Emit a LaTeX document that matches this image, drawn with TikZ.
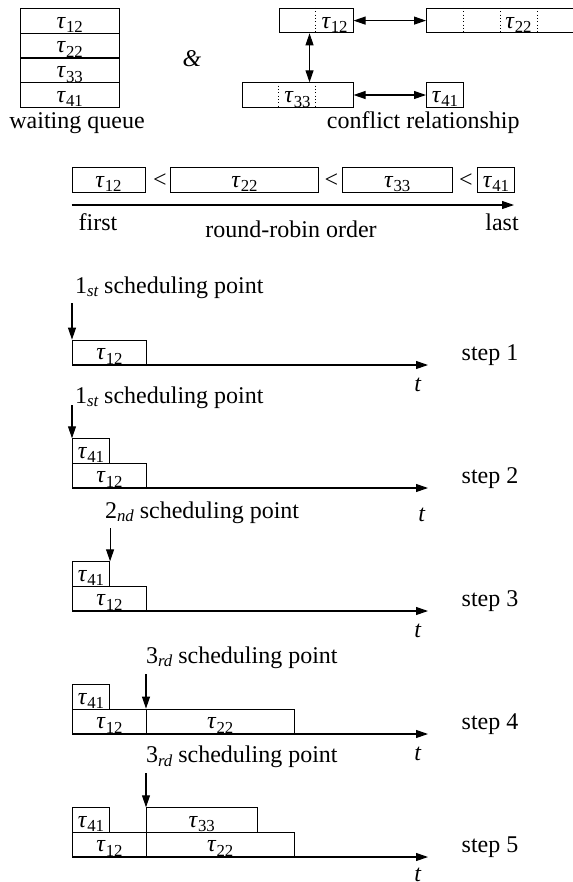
\documentclass[tikz,border=0pt]{standalone}
\usepackage{fontspec}
\setmainfont{Liberation Serif}
\usetikzlibrary{arrows.meta,calc}
% task symbol tau_{ij} with an upright, lowered index
\newcommand{\tk}[1]{\textit{τ}\raisebox{-3.4pt}{\fontsize{12.6pt}{12.6pt}\selectfont #1}}
% ordinal with a lowered italic suffix, e.g. 1_st
\newcommand{\ordn}[2]{#1\raisebox{-2.6pt}{\fontsize{12.6pt}{12.6pt}\selectfont\itshape #2}}
\begin{document}
\begin{tikzpicture}[x=0.75pt,y=-0.75pt,
  font=\fontsize{18pt}{21pt}\selectfont,
  tbox/.style={draw,rectangle,line width=0.8pt,inner sep=0pt,minimum height=18.25pt,
               text height=14.5pt,text depth=3.75pt,anchor=south west},
  bw/.style={minimum width=#1*0.75pt},
  lbl/.style={inner sep=0pt,outer sep=0pt,anchor=base},
  sep/.style={dotted,line width=0.5pt},
  arr/.style={-{Triangle[length=9pt,width=6pt]},line width=0.8pt},
  dbl/.style={{Triangle[length=9pt,width=6pt]}-{Triangle[length=9pt,width=6pt]},line width=0.8pt}]
\useasboundingbox (0,0) rectangle (573,882);

% ---------------- waiting queue ----------------
\node[tbox,bw=98.5] (q1) at (20,33.7)  {\tk{12}};
\node[tbox,bw=98.5] (q2) at (20,58.4)  {\tk{22}};
\node[tbox,bw=98.5] (q3) at (20,83.1)  {\tk{33}};
\node[tbox,bw=98.5] (q4) at (20,107.8) {\tk{41}};
\node[lbl] (wq) at (77,128.3) {waiting queue};
\node[lbl] (amp) at (192,66.7) {\textit{\&}};

% ---------------- conflict relationship ----------------
\node[tbox,bw=74]  (c12) at (278.5,33.3) {};
\node[tbox,bw=150] (c22) at (426,33.3) {};
\node[tbox,bw=111] (c33) at (241.5,107.7) {};
\node[tbox,bw=37]  (c41) at (426,107.7) {\tk{41}};
\draw[sep] ([xshift=27.75pt]c12.north west) -- ([xshift=27.75pt]c12.south west);
\foreach \k in {1,2,3}{
  \draw[sep] ([xshift=\k*27.75pt]c22.north west) -- ([xshift=\k*27.75pt]c22.south west);}
\foreach \k in {1,2}{
  \draw[sep] ([xshift=\k*27.75pt]c33.north west) -- ([xshift=\k*27.75pt]c33.south west);}
\node[lbl] (c12l) at ([xshift=13.9pt,yshift=3.75pt]c12.south) {\tk{12}};
\node[lbl] (c22l) at ([xshift=69.4pt,yshift=3.75pt]c22.south west) {\tk{22}};
\node[lbl] (c33l) at ([yshift=3.75pt]c33.south) {\tk{33}};
\draw[dbl] (c12.east) -- (c22.west);
\coordinate (va) at ($(c12.south)+(-6.5,0)$);
\draw[dbl] (va) -- (va |- c33.north);
\draw[dbl] (c33.east) -- (c41.west);
\node[lbl] (cr) at (423.3,128.3) {conflict relationship};

% ---------------- round-robin order ----------------
\node[tbox,bw=73]    (r12) at (71.5,192.7) {\tk{12}};
\node[tbox,bw=148]   (r22) at (170,192.7)  {\tk{22}};
\node[tbox,bw=109.5] (r33) at (342,192.7)  {\tk{33}};
\node[tbox,bw=37]    (r41) at (477,192.7)  {\tk{41}};
\node[lbl] (lt1) at (160,187)   {<};
\node[lbl] (lt2) at (331.5,187) {<};
\node[lbl] (lt3) at (466,187)   {<};
\coordinate (rs) at (71.5,205);
\coordinate (re) at (514,205);
\draw[arr] (rs) -- (re);
\node[lbl] (first) at (98,230.5)  {first};
\node[lbl] (rro)   at (291,237.5) {round-robin order};
\node[lbl] (last)  at (502,230.5) {last};

% ---------------- step 1 ----------------
\node[tbox,bw=74] (s1a) at (72,365) {\tk{12}};
\coordinate (s1e) at (428,365);
\draw[arr] (s1a.south west) -- (s1e);
\node[lbl] (s1t) at (418,391) {\textit{t}};
\node[lbl] (s1n) at (490,360) {step 1};
\node[lbl,anchor=base west] (s1p) at (75,293.3) {\ordn{1}{st} scheduling point};
\draw[arr] ($(s1p.base west -| s1a.west)+(0,10)$) -- (s1a.north west);

% ---------------- step 2 ----------------
\node[tbox,bw=74] (s2a) at (72,488)   {\tk{12}};
\node[tbox,bw=37] (s2b) at (72,463.7) {\tk{41}};
\coordinate (s2e) at (428,488);
\draw[arr] (s2a.south west) -- (s2e);
\node[lbl] (s2t) at (422,521.5) {\textit{t}};
\node[lbl] (s2n) at (490,483) {step 2};
\node[lbl,anchor=base west] (s2p) at (75,403.3) {\ordn{1}{st} scheduling point};
\draw[arr] ($(s2p.base west -| s2b.west)+(0,1.7)$) -- (s2b.north west);

% ---------------- step 3 ----------------
\node[tbox,bw=74] (s3a) at (72,611)   {\tk{12}};
\node[tbox,bw=37] (s3b) at (72,586.7) {\tk{41}};
\coordinate (s3e) at (428,611);
\draw[arr] (s3a.south west) -- (s3e);
\node[lbl] (s3t) at (418,637) {\textit{t}};
\node[lbl] (s3n) at (490,606) {step 3};
\node[lbl,anchor=base west] (s3p) at (105,518.3) {\ordn{2}{nd} scheduling point};
\draw[arr] ($(s3p.base west -| s3b.east)+(0,10)$) -- (s3b.north east);

% ---------------- step 4 ----------------
\node[tbox,bw=74]    (s4a) at (72,734)   {\tk{12}};
\node[tbox,bw=37]    (s4b) at (72,709.7) {\tk{41}};
\node[tbox,bw=147.5] (s4c) at (146,734)  {\tk{22}};
\coordinate (s4e) at (428,734);
\draw[arr] (s4a.south west) -- (s4e);
\node[lbl] (s4t) at (418,760) {\textit{t}};
\node[lbl] (s4n) at (490,729) {step 4};
\node[lbl,anchor=base west] (s4p) at (146,663.3) {\ordn{3}{rd} scheduling point};
\draw[arr] ($(s4p.base west -| s4c.west)+(0,11)$) -- (s4c.north west);

% ---------------- step 5 ----------------
\node[tbox,bw=74]    (s5a) at (72,857)   {\tk{12}};
\node[tbox,bw=37]    (s5b) at (72,832.7) {\tk{41}};
\node[tbox,bw=147.5] (s5c) at (146,857)  {\tk{22}};
\node[tbox,bw=110.5] (s5d) at (146,832.7) {\tk{33}};
\coordinate (s5e) at (428,857);
\draw[arr] (s5a.south west) -- (s5e);
\node[lbl] (s5t) at (418,881) {\textit{t}};
\node[lbl] (s5n) at (490,852) {step 5};
\node[lbl,anchor=base west] (s5p) at (146,762.7) {\ordn{3}{rd} scheduling point};
\draw[arr] ($(s5p.base west -| s5d.west)+(0,10.6)$) -- (s5d.north west);
\end{tikzpicture}
\end{document}
